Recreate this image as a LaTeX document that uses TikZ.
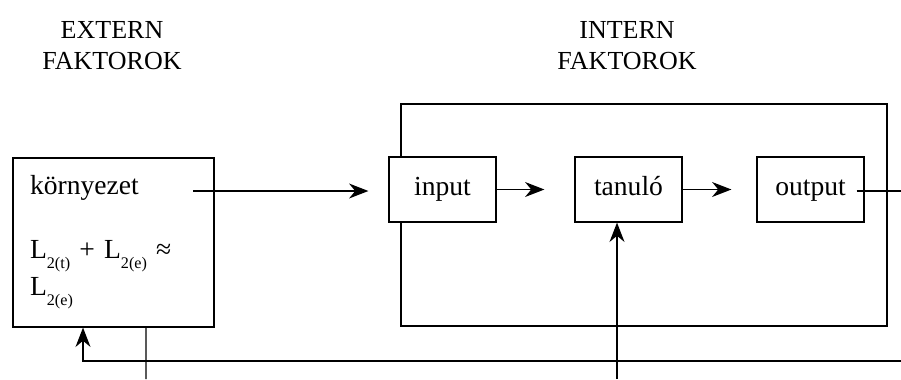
\documentclass[tikz,border=0pt]{standalone}
\usepackage{fontspec}
\setmainfont{Liberation Serif}
\usepackage{tikz}
\usetikzlibrary{arrows.meta}
\newcommand{\Lsub}[1]{L\raisebox{-5.7pt}{\fontsize{9.2}{10}\selectfont #1}}
\tikzstyle{block} = [rectangle, draw, fill=white, minimum width = 2.14cm, minimum height = 1.3cm, inner sep = 0pt, text height = 10.8pt, text depth = 4pt, font = \fontsize{15.7}{17.6}\selectfont]
\tikzstyle{envblock} = [rectangle, draw, fill=white, minimum width = 4.02cm, minimum height = 3.38cm, text width = 3.34cm, inner xsep = 0.34cm, align = left, font = \fontsize{15.7}{17.6}\selectfont]
\tikzstyle{frame} = [rectangle, draw, minimum width = 9.72cm, minimum height = 4.44cm]
\tikzstyle{title} = [align = center, font = \fontsize{14.8}{17.6}\selectfont]
\tikzstyle{line} = [->, >= {Stealth[length=11pt, width=8.5pt, inset=3.5pt]}]

\begin{document}
\begin{tikzpicture}[x = 0.02cm, y = -0.02cm, line width = 0.7pt]
        \useasboundingbox (0,0) rectangle (901,379);
        \node(extern) [title] at (112,46) {EXTERN\\FAKTOROK};
        \node(intern) [title] at (627,46) {INTERN\\FAKTOROK};
        \node(frame) [frame] at (644,215) {};
        \node(env) [envblock] at (113.5,242.5) {környezet\\[18.8pt]\Lsub{2(t)} + \Lsub{2(e)} ≈\\[2.3pt]\Lsub{2(e)}};
        \node(input) [block] at (442.5,189.5) {input};
        \node(tanulo) [block] at (628.5,189.5) {tanuló};
        \node(output) [block] at (810.5,189.5) {output};
        \coordinate (envout) at (193,191);
        \coordinate (outend) at (901,191);
        \coordinate (fbright) at (901,361);
        \coordinate (envbot) at (146,379);
        \coordinate (tanin) at (617,379);
        \draw[line, shorten >= 0.4cm] (envout) -- (envout -| input.west);
        \draw[line, shorten >= 0.6cm] (input.east) -- (tanulo.west);
        \draw[line, shorten >= 0.5cm] (tanulo.east) -- (output.west);
        \draw ([xshift = -0.16cm]output.east |- outend) -- (outend);
        \draw[line] (fbright) -| ([xshift = -0.61cm]env.south);
        \draw ([xshift = 0.65cm]env.south) -- (envbot);
        \draw[line] (tanin) -- (tanin |- tanulo.south);
    \end{tikzpicture}
\end{document}
